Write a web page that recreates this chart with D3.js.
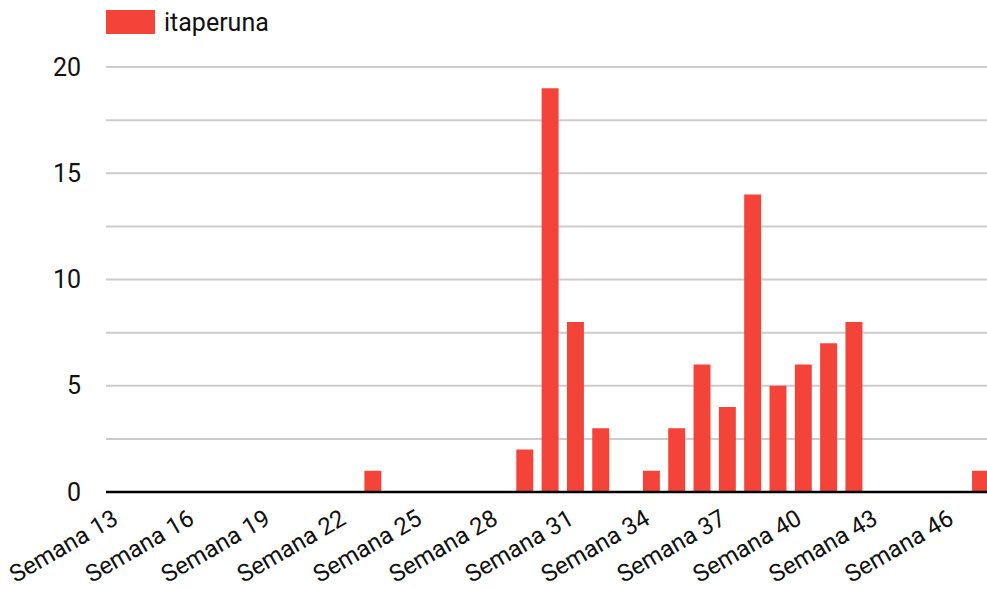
<!DOCTYPE html>
<html>
<head>
<meta charset="utf-8">
<script src="https://cdn.jsdelivr.net/npm/d3@7"></script>
<style>
  body { margin: 0; background: #fff; }
  svg { display: block; font-family: Roboto, Arial, sans-serif; }
</style>
</head>
<body>
<div class="chart"></div>
<script>
// weeks shown on the x axis
const weeks = d3.range(13, 48);
const labels = weeks.map(w => `Semana ${w}`);
// cases per week for itaperuna
const values = [0, 0, 0, 0, 0, 0, 0, 0, 0, 0, 1, 0, 0, 0, 0, 0, 2, 19, 8, 3, 0, 1, 3, 6, 4, 14, 5, 6, 7, 8, 0, 0, 0, 0, 1];
const yTicks = [0, 5, 10, 15, 20];
const gridTicks = [0, 2.5, 5, 7.5, 10, 12.5, 15, 17.5, 20];
const seriesName = "itaperuna";

const WIDTH = 987, HEIGHT = 589;
const left = 106, step = 25.32;
const barColor = "#f4443a";

const svg = d3.select(".chart").append("svg")
  .attr("width", WIDTH)
  .attr("height", HEIGHT);

const x = d3.scaleBand()
  .domain(labels)
  .range([left, left + step * labels.length])
  .paddingInner(0.33)
  .paddingOuter(0.165);

const y = d3.scaleLinear()
  .domain([0, 20])
  .range([492, 67]);

// gridlines
svg.append("g")
  .selectAll("line")
  .data(gridTicks)
  .enter().append("line")
  .attr("x1", left)
  .attr("x2", WIDTH)
  .attr("y1", d => y(d))
  .attr("y2", d => y(d))
  .style("stroke", "#cccccc")
  .style("stroke-width", 2);

// bars
svg.append("g")
  .selectAll("rect")
  .data(values.map((v, i) => ({ label: labels[i], value: v })))
  .enter().append("rect")
  .attr("x", d => x(d.label) + 1)
  .attr("y", d => y(d.value))
  .attr("width", x.bandwidth())
  .attr("height", d => y(0) - y(d.value))
  .style("fill", barColor);

// baseline
svg.append("line")
  .attr("x1", left)
  .attr("x2", WIDTH)
  .attr("y1", y(0))
  .attr("y2", y(0))
  .style("stroke", "#000")
  .style("stroke-width", 2.5);

// y axis labels
const yAxis = svg.append("g")
  .attr("transform", "translate(81,0)")
  .call(d3.axisLeft(y).tickValues(yTicks).tickSize(0).tickPadding(0));
yAxis.select(".domain").remove();
yAxis.selectAll("text")
  .attr("font-size", 25)
  .attr("font-family", "Roboto")
  .attr("fill", "#111");

// x axis labels, every third week
const xAxis = svg.append("g")
  .attr("transform", `translate(0,${y(0)})`)
  .call(d3.axisBottom(x).tickValues(labels.filter((d, i) => i % 3 === 0)).tickSize(0));
xAxis.select(".domain").remove();
xAxis.selectAll("text")
  .attr("font-size", 24)
  .attr("font-family", "Roboto")
  .attr("fill", "#111")
  .attr("text-anchor", "end")
  .attr("dy", 0)
  .attr("y", 0)
  .attr("transform", "translate(1,31) rotate(-30)");

// legend
const legend = svg.append("g");
legend.append("rect")
  .attr("x", 106)
  .attr("y", 10)
  .attr("width", 49)
  .attr("height", 24)
  .style("fill", barColor);
legend.append("text")
  .attr("x", 164)
  .attr("y", 31)
  .attr("font-size", 25)
  .attr("fill", "#111")
  .text(seriesName);
</script>
</body>
</html>
